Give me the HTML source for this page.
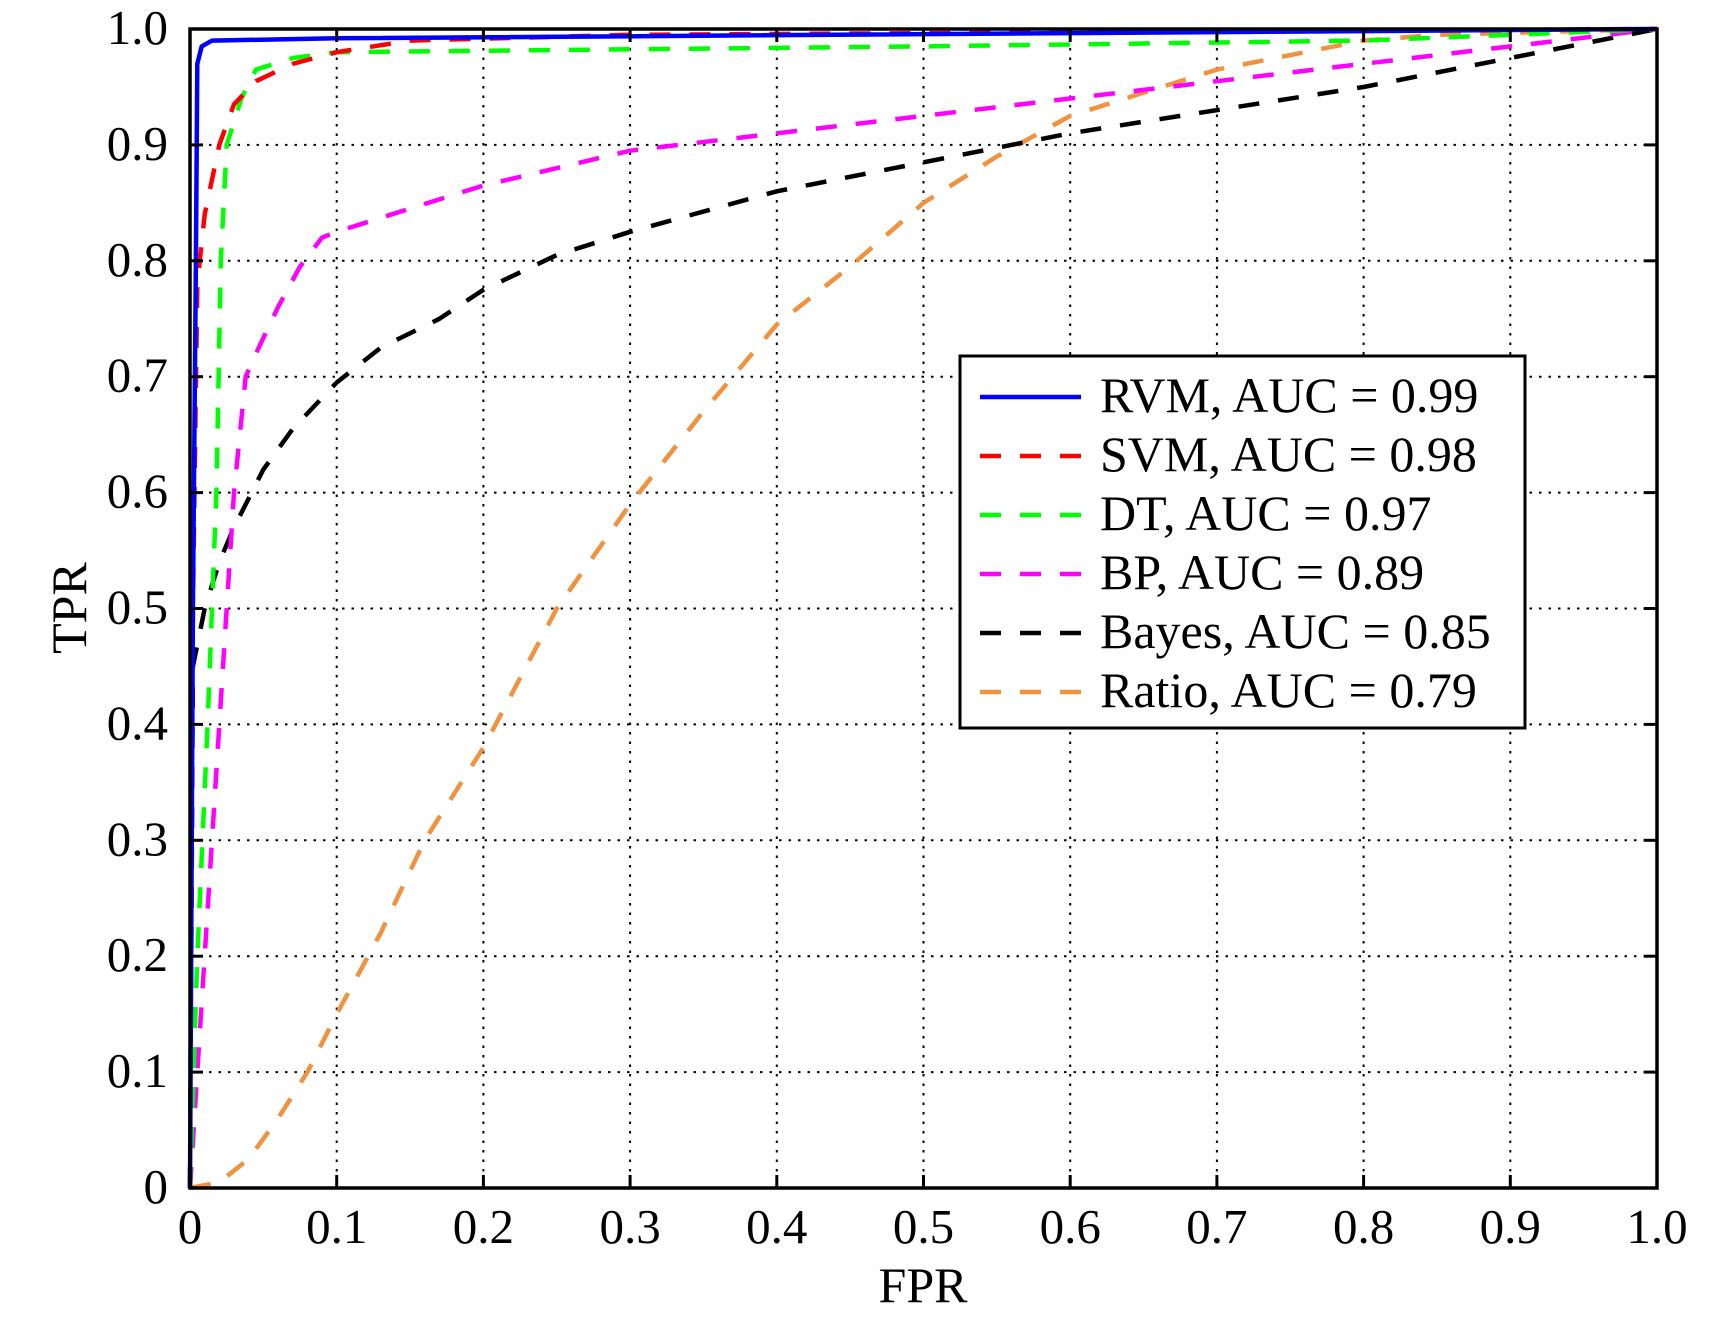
<!DOCTYPE html>
<html><head><meta charset="utf-8"><style>
html,body{margin:0;padding:0;background:#fff}
svg{display:block}
text{font-family:"Liberation Serif",serif;fill:#000}
</style></head><body>
<svg id="s" width="1732" height="1319" xmlns="http://www.w3.org/2000/svg">
<rect x="0" y="0" width="1732" height="1319" fill="#fff"/>
<g id="grid" stroke="#000" stroke-width="2" stroke-dasharray="2.5 7"></g>
<g id="curves" fill="none" stroke-width="4.5" stroke-linejoin="round"></g>
<g id="ticks" stroke="#000" stroke-width="3"></g>
<rect x="190" y="29" width="1467" height="1159" fill="none" stroke="#000" stroke-width="3.5"/>
<g id="labels" font-size="49"></g>
<text x="86" y="608" font-size="50" text-anchor="middle" transform="rotate(-90 86 608)">TPR</text>
<text x="923" y="1302" font-size="50" text-anchor="middle">FPR</text>
<g>
<rect x="960" y="356" width="565" height="372" fill="#fff" stroke="#000" stroke-width="3"/>
<line x1="980" y1="397" x2="1081" y2="397" stroke="#0000ff" stroke-width="4.5"/>
<line x1="980" y1="456" x2="1081" y2="456" stroke="#ff0000" stroke-width="4.5" stroke-dasharray="21 19"/>
<line x1="980" y1="515" x2="1081" y2="515" stroke="#00ff00" stroke-width="4.5" stroke-dasharray="21 19"/>
<line x1="980" y1="574" x2="1081" y2="574" stroke="#ff00ff" stroke-width="4.5" stroke-dasharray="21 19"/>
<line x1="980" y1="633" x2="1081" y2="633" stroke="#000000" stroke-width="4.5" stroke-dasharray="21 19"/>
<line x1="980" y1="692" x2="1081" y2="692" stroke="#f0923f" stroke-width="4.5" stroke-dasharray="21 19"/>
<g font-size="50">
<text x="1100" y="412">RVM, AUC = 0.99</text>
<text x="1100" y="471">SVM, AUC = 0.98</text>
<text x="1100" y="530">DT, AUC = 0.97</text>
<text x="1100" y="589">BP, AUC = 0.89</text>
<text x="1100" y="648">Bayes, AUC = 0.85</text>
<text x="1100" y="707">Ratio, AUC = 0.79</text>
</g>
</g>
</svg>
<script>
var NS="http://www.w3.org/2000/svg";
function X(v){return 190+1467*v}
function Y(v){return 1188-1159*v}
function el(p,tag,a,t){var e=document.createElementNS(NS,tag);for(var k in a)e.setAttribute(k,a[k]);if(t!==undefined)e.textContent=t;p.appendChild(e);return e}
var g=document.getElementById('grid'),tk=document.getElementById('ticks'),lb=document.getElementById('labels');
for(var i=0;i<=10;i++){
 var v=i/10,x=X(v),y=Y(v);
 if(i>0&&i<10){
  el(g,'line',{x1:x,y1:29,x2:x,y2:1188});
  el(g,'line',{x1:190,y1:y,x2:1657,y2:y});
 }
 el(tk,'line',{x1:x,y1:1188,x2:x,y2:1175});
 el(tk,'line',{x1:x,y1:29,x2:x,y2:42});
 el(tk,'line',{x1:190,y1:y,x2:203,y2:y});
 el(tk,'line',{x1:1657,y1:y,x2:1644,y2:y});
 var s=(i==0)?'0':(i==10?'1.0':v.toFixed(1));
 el(lb,'text',{x:x,y:1243,'text-anchor':'middle'},s);
 el(lb,'text',{x:168,y:y+15,'text-anchor':'end'},s);
}
var C=[
['#f0923f',[[0,0],[0.02,0.005],[0.04,0.025],[0.06,0.06],[0.08,0.1],[0.1,0.15],[0.13,0.22],[0.16,0.3],[0.2,0.38],[0.25,0.5],[0.3,0.59],[0.35,0.67],[0.4,0.745],[0.45,0.795],[0.5,0.85],[0.55,0.89],[0.6,0.925],[0.65,0.945],[0.7,0.965],[0.8,0.99],[0.85,0.995],[1,1]]],
['#000000',[[0,0],[0.002,0.45],[0.01,0.5],[0.02,0.54],[0.03,0.57],[0.05,0.62],[0.07,0.655],[0.1,0.695],[0.13,0.725],[0.17,0.75],[0.2,0.775],[0.25,0.805],[0.3,0.825],[0.4,0.86],[0.5,0.885],[0.6,0.91],[0.7,0.93],[0.8,0.95],[0.9,0.975],[1,1]]],
['#ff00ff',[[0,0],[0.005,0.1],[0.015,0.3],[0.025,0.5],[0.03,0.6],[0.038,0.7],[0.045,0.72],[0.06,0.76],[0.075,0.795],[0.09,0.82],[0.1,0.825],[0.15,0.845],[0.2,0.865],[0.3,0.895],[0.4,0.91],[0.5,0.925],[0.6,0.94],[0.7,0.955],[0.8,0.97],[0.9,0.985],[1,1]]],
['#00ff00',[[0,0],[0.005,0.2],[0.012,0.4],[0.018,0.6],[0.021,0.8],[0.025,0.9],[0.035,0.94],[0.045,0.965],[0.07,0.975],[0.1,0.98],[0.5,0.985],[0.8,0.99],[1,1]]],
['#ff0000',[[0,0],[0.002,0.5],[0.005,0.78],[0.01,0.84],[0.02,0.9],[0.03,0.935],[0.045,0.955],[0.07,0.97],[0.1,0.98],[0.15,0.99],[0.3,0.995],[1,1]]],
['#0000ff',[[0,0],[0.002,0.5],[0.004,0.8],[0.005,0.97],[0.008,0.985],[0.015,0.99],[0.1,0.992],[1,1]],1]
];
var cg=document.getElementById('curves');
C.forEach(function(c){
 var d=c[1].map(function(p,i){return (i?'L':'M')+X(p[0]).toFixed(1)+' '+Y(p[1]).toFixed(1)}).join(' ');
 var a={d:d,stroke:c[0]};if(!c[2])a['stroke-dasharray']='21 19';
 el(cg,'path',a);
});
</script>
</body></html>
